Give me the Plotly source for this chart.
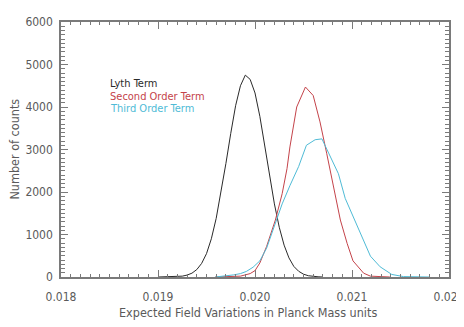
import plotly.graph_objects as go

# Lyth term (black)
lyth_x = [0.01900, 0.01910, 0.01915, 0.01920, 0.01925, 0.01930, 0.01935, 0.01940, 0.01945,
          0.01950, 0.01955, 0.01960, 0.01965, 0.01970, 0.01975, 0.01980, 0.01985, 0.01990,
          0.01995, 0.02000, 0.02005, 0.02010, 0.02015, 0.02020, 0.02025, 0.02030, 0.02035,
          0.02040, 0.02045, 0.02050, 0.02055, 0.02060, 0.02065, 0.02070]
lyth_y = [0, 3, 5, 10, 20, 45, 90, 175, 320, 550, 900, 1380, 1980, 2670, 3380, 4030, 4500,
          4750, 4650, 4330, 3780, 3100, 2380, 1720, 1170, 750, 450, 250, 135, 66, 30, 12, 5, 0]

# Second order term (red)
second_x = [0.01959, 0.01974, 0.01985, 0.01995, 0.02000, 0.02005, 0.02012, 0.02021, 0.02028,
            0.02033, 0.02036, 0.02043, 0.02052, 0.02060, 0.02067, 0.02074, 0.02081, 0.02088,
            0.02095, 0.02101, 0.02112, 0.02119, 0.02139]
second_y = [0, 5, 20, 80, 150, 330, 720, 1340, 1960, 2550, 3060, 4000, 4470, 4270, 3650,
            2900, 2080, 1340, 790, 380, 90, 20, 0]

# Third order term (cyan)
third_x = [0.01959, 0.01969, 0.01978, 0.01985, 0.01991, 0.01998, 0.02005, 0.02012, 0.02021,
           0.02028, 0.02036, 0.02045, 0.02053, 0.02062, 0.02069, 0.02074, 0.02081, 0.02086,
           0.02093, 0.02101, 0.02110, 0.02119, 0.02129, 0.02141, 0.02153, 0.02170, 0.02180]
third_y = [0, 20, 50, 80, 130, 230, 380, 680, 1250, 1720, 2150, 2600, 3100, 3230, 3250,
           3000, 2670, 2430, 1850, 1420, 950, 490, 240, 60, 10, 2, 0]

x_ticks = [0.018, 0.019, 0.020, 0.021, 0.022]
y_ticks = [0, 1000, 2000, 3000, 4000, 5000, 6000]

labels = ["Lyth Term", "Second Order Term", "Third Order Term"]
colors = ["#2a2a2a", "#c4434a", "#4fbbd6"]

FONT = "DejaVu Sans Condensed, Liberation Sans Narrow, Roboto, sans-serif"
AXIS_COL = "#7a7a7a"
TXT = "#5a5a5a"
X_RANGE = [0.018, 0.02200001]
Y_RANGE = [0, 6000]

fig = go.Figure()
for xs, ys, name, col in [(lyth_x, lyth_y, labels[0], colors[0]),
                          (second_x, second_y, labels[1], colors[1]),
                          (third_x, third_y, labels[2], colors[2])]:
    fig.add_trace(go.Scatter(x=xs, y=ys, mode="lines", name=name,
                             line=dict(color=col, width=1)))
# empty trace to bring the mirrored (top/right) axes into existence
fig.add_trace(go.Scatter(x=[], y=[], xaxis="x2", yaxis="y2", showlegend=False,
                         hoverinfo="skip"))

tick_common = dict(ticks="inside", tickcolor=AXIS_COL, tickwidth=1, ticklen=7,
                   showgrid=False, zeroline=False, showline=True, linecolor=AXIS_COL,
                   linewidth=1.5, automargin=False)
tfont = dict(family=FONT, size=12, color=TXT)
xminor = dict(ticks="inside", ticklen=3, dtick=0.0001, tickcolor=AXIS_COL, showgrid=False)
yminor = dict(ticks="inside", ticklen=4, dtick=100, tickcolor=AXIS_COL, showgrid=False)

fig.update_layout(
    xaxis=dict(range=X_RANGE, tickvals=x_ticks, ticktext=[f"{v:.3f}" for v in x_ticks],
               minor=xminor, ticklabelstandoff=8, tickfont=tfont,
               ticklabeloverflow="allow", **tick_common),
    yaxis=dict(range=Y_RANGE, tickvals=y_ticks, ticktext=[str(v) for v in y_ticks],
               minor=yminor, ticklabelstandoff=4, tickfont=tfont,
               ticklabeloverflow="allow", **tick_common),
    xaxis2=dict(range=X_RANGE, tickvals=x_ticks, overlaying="x", side="top",
                anchor="y2", showticklabels=False, minor=xminor, **tick_common),
    yaxis2=dict(range=Y_RANGE, tickvals=y_ticks, overlaying="y", side="right",
                anchor="x2", showticklabels=False, minor=yminor, **tick_common),
)

annotations = [
    dict(text="Expected Field Variations in Planck Mass units", xref="paper", yref="paper",
         x=0.482, y=-0.141, showarrow=False, xanchor="center", yanchor="middle",
         font=dict(family=FONT, size=12.5, color=TXT)),
    dict(text="Number of counts", xref="paper", yref="paper", x=-0.121, y=0.5,
         showarrow=False, textangle=-90, xanchor="center", yanchor="middle",
         font=dict(family=FONT, size=12.5, color=TXT)),
]
for i, (lab, col) in enumerate(zip(labels, colors)):
    annotations.append(dict(text=lab, xref="paper", yref="paper", x=0.121,
                            y=0.757 - i * 0.049, showarrow=False, xanchor="left",
                            yanchor="middle", font=dict(family=FONT, size=11, color=col)))

# the page body adds an 8px offset, so the figure is sized/margined to compensate
fig.update_layout(width=456, height=319,
                  margin=dict(l=53, r=15, t=14, b=50, autoexpand=False),
                  paper_bgcolor="white", plot_bgcolor="white", showlegend=False,
                  annotations=annotations)

fig.write_html("out.html")
